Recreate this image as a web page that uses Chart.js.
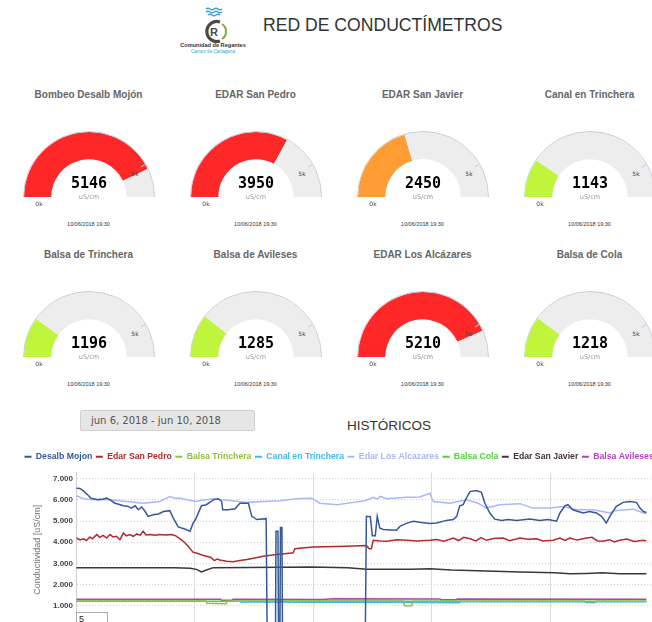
<!DOCTYPE html>
<html>
<head>
<meta charset="utf-8">
<script src="https://cdn.jsdelivr.net/npm/chart.js@4.4.0/dist/chart.umd.min.js"></script>
<style>
body { margin:0; width:652px; height:622px; overflow:hidden; background:#fff; position:relative;
       font-family: Arial, "Liberation Sans", sans-serif; }
.abs { position:absolute; }
#title { left:263px; top:15px; font-size:17.6px; color:#333; white-space:nowrap; }
.gtitle { position:absolute; width:170px; margin-left:-85px; text-align:center; font-weight:bold;
          font-size:10px; line-height:12px; color:#666; white-space:nowrap; }
.gdate { position:absolute; width:100px; margin-left:-50px; text-align:center; font-size:5.5px;
         line-height:6px; color:#333; }
#range { left:80px; top:410px; width:163px; height:19px; padding-left:10px; background:#e6e6e6;
         border:1px solid #d0d0d0; border-radius:2px; font-family:"DejaVu Sans"; font-size:10px;
         line-height:19px; color:#555; }
#hist { left:347px; top:418px; font-size:13.5px; line-height:16px; color:#333; }
#roll { left:76px; top:612px; width:28px; height:14px; border:1px solid #aaa; font-size:9px;
        line-height:12px; padding-left:2px; color:#222; background:#fff; }
</style>
</head>
<body>

<svg class="abs" style="left:178px;top:5px" width="72" height="52">
  <path d="M28 4 q2 -1.5 4 0 t4 0 t4 0 t4 0" stroke="#3a9fd8" fill="none" stroke-width="1.3"/>
  <path d="M28 7 q2 -1.5 4 0 t4 0 t4 0 t4 0" stroke="#3a9fd8" fill="none" stroke-width="1.3"/>
  <path d="M30 10 q2 -1.5 4 0 t4 0 t4 0" stroke="#3a9fd8" fill="none" stroke-width="1.3"/>
  <path d="M42 17 A10 10 0 1 0 42 36" stroke="#4a4a4a" fill="none" stroke-width="3.2"/>
  <path d="M44 19 A9 9 0 0 1 44 34" stroke="#8aa23a" fill="none" stroke-width="2"/>
  <text x="36" y="30.5" font-size="11" font-weight="bold" fill="#4a4a4a" text-anchor="middle" font-family="Arial">R</text>
  <text x="35" y="42" font-size="5.6" font-weight="bold" fill="#333" text-anchor="middle" font-family="Arial">Comunidad de Regantes</text>
  <text x="35" y="48" font-size="4.6" fill="#3a9fd6" text-anchor="middle" font-family="Arial">Campo de Cartagena</text>
</svg>
<div id="title" class="abs">RED DE CONDUCTÍMETROS</div>

<div id="gauges"></div>

<div id="range" class="abs">jun 6, 2018 - jun 10, 2018</div>
<div id="hist" class="abs">HISTÓRICOS</div>

<canvas id="hChart" class="abs" width="700" height="190" style="left:21px;top:449px"></canvas>
<div id="roll" class="abs">5</div>

<script>
// ---- gauges ----
var gaugeNames = ['Bombeo Desalb Mojón', 'EDAR San Pedro', 'EDAR San Javier', 'Canal en Trinchera',
                  'Balsa de Trinchera', 'Balsa de Avileses', 'EDAR Los Alcázares', 'Balsa de Cola'];
var gaugeValues = [5146, 3950, 2450, 1143, 1196, 1285, 5210, 1218];
var gaugeColors = ['#ff2828', '#ff2828', '#ff9c33', '#bff53b', '#bff53b', '#bff53b', '#ff2828', '#bff53b'];
var gaugeMax = 6000;
var gaugeTick = 5000;
var gaugeDate = '10/06/2018 19:30';
var gaugeUnit = 'uS/cm';

var colX = [88.5, 255.5, 422.5, 589.5];
var rowY = [197, 357];

var gaugeDeco = {
  id: 'gaugeDeco',
  afterDatasetsDraw: function (chart) {
    var arc = chart.getDatasetMeta(0).data[0];
    var ctx = chart.ctx, cx = arc.x, cy = arc.y, r = arc.outerRadius;
    ctx.save();
    ctx.strokeStyle = '#c3cedb';
    ctx.lineWidth = 1;
    ctx.beginPath();
    ctx.arc(cx, cy, r + 0.5, Math.PI, 2 * Math.PI);
    ctx.stroke();
    var a = Math.PI + Math.PI * gaugeTick / gaugeMax;
    ctx.beginPath();
    ctx.moveTo(cx + Math.cos(a) * (r - 5), cy + Math.sin(a) * (r - 5));
    ctx.lineTo(cx + Math.cos(a) * r, cy + Math.sin(a) * r);
    ctx.stroke();

    ctx.textAlign = 'center';
    ctx.fillStyle = '#000';
    ctx.font = 'bold 15px "DejaVu Sans Mono"';
    ctx.fillText(String(chart.data.datasets[0].data[0]), cx, cy - 9.5);
    ctx.fillStyle = '#999';
    ctx.font = '6.5px "DejaVu Sans"';
    ctx.fillText(gaugeUnit, cx, cy + 2);
    ctx.fillStyle = '#444';
    ctx.font = '6px "DejaVu Sans"';
    ctx.fillText('0k', cx - 50, cy + 9);
    ctx.fillText('5k', cx + 46, cy - 21);
    ctx.restore();
  }
};

var host = document.getElementById('gauges');
gaugeNames.forEach(function (name, i) {
  var gx = colX[i % 4], gy = rowY[Math.floor(i / 4)];
  var t = document.createElement('div');
  t.className = 'gtitle';
  t.style.left = gx + 'px';
  t.style.top = (gy - 108) + 'px';
  t.textContent = name;
  host.appendChild(t);

  var d = document.createElement('div');
  d.className = 'gdate';
  d.style.left = gx + 'px';
  d.style.top = (gy + 23.5) + 'px';
  d.textContent = gaugeDate;
  host.appendChild(d);

  var c = document.createElement('canvas');
  c.width = 140; c.height = 82;
  c.className = 'abs';
  c.style.left = (gx - 70) + 'px';
  c.style.top = (gy - 68) + 'px';
  host.appendChild(c);

  new Chart(c.getContext('2d'), {
    type: 'doughnut',
    data: {
      labels: ['valor', 'resto'],
      datasets: [{
        data: [gaugeValues[i], gaugeMax - gaugeValues[i]],
        backgroundColor: [gaugeColors[i], '#ededed'],
        borderWidth: 0
      }]
    },
    options: {
      responsive: false,
      animation: false,
      events: [],
      rotation: -90,
      circumference: 180,
      cutout: '58%',
      layout: { padding: { left: 5, right: 5, top: 3, bottom: 14 } },
      plugins: { legend: { display: false }, tooltip: { enabled: false } }
    },
    plugins: [gaugeDeco]
  });
});

// ---- histórico (horas desde 6 jun 00:00) ----
var mojonH = [0.1, 0.8, 1.5, 2.4, 3.0, 3.5, 4.5, 5.5, 6.2, 6.9, 7.9, 8.8, 9.6, 10.6, 11.2, 12.0, 12.6, 13.3, 14.0, 14.6,
  15.6, 16.7, 17.7, 19.0, 19.7, 20.7, 22.0, 23.1, 23.7, 24.2, 25.4, 26.4, 27.8, 28.8, 29.5, 29.7, 30.8, 32.2, 33.2, 34.9,
  35.6, 36.6, 38.5, 38.7, 40.4, 40.5, 40.9, 41.0, 41.3, 41.4, 41.7, 41.8, 58.6, 58.8, 59.6, 60.0, 60.6, 61.0, 61.5, 62.2,
  64.9, 65.6, 67.0, 68.3, 69.6, 71.7, 73.0, 75.0, 76.4, 77.1, 77.7, 78.4, 79.4, 79.8, 81.1, 82.1, 82.8, 83.8, 84.8, 86.2,
  87.5, 89.2, 91.9, 93.9, 95.6, 97.3, 98.0, 99.0, 99.6, 100.6, 101.7, 102.7, 104.0, 105.4, 106.4, 107.4, 108.1, 109.4,
  110.8, 112.1, 113.5, 114.2, 114.9, 115.5];
var mojonV = [6550, 6540, 6420, 6230, 6080, 6050, 6010, 6040, 6080, 6000, 5840, 5780, 5720, 5690, 5610, 5720, 5530, 5660, 5450, 5220,
  5300, 5330, 5450, 5490, 5140, 4720, 4620, 4520, 4900, 5070, 5720, 5770, 6000, 6050, 5920, 5530, 5530, 5580, 5840, 5840,
  5220, 5070, 5110, 0, 0, 4520, 4520, 0, 0, 4700, 4700, 0, 0, 5220, 5200, 4300, 4300, 5220, 4670, 4600,
  4560, 4750, 4900, 4990, 4940, 4880, 4910, 5030, 5070, 5220, 5720, 5770, 6240, 6390, 6440, 6350, 5840, 5380, 5090, 5020,
  5070, 5030, 5090, 5030, 5070, 4990, 5380, 5720, 5770, 5530, 5450, 5380, 5450, 5380, 5220, 4910, 5220, 5690,
  5880, 5920, 5880, 5610, 5450, 5400];

var pedroH = [0.1, 0.8, 1.5, 2.1, 2.8, 3.3, 4.2, 4.8, 5.5, 6.2, 6.9, 7.5, 8.2, 8.9, 9.6, 10.2, 10.9, 11.6, 12.3, 13.0,
  13.6, 14.2, 15.0, 16.0, 17.0, 18.2, 19.4, 20.2, 21.1, 22.0, 22.7, 23.7, 24.7, 25.5, 26.4, 27.3, 28.0, 28.6, 29.1, 30.5,
  31.8, 33.2, 34.6, 36.2, 37.9, 40.6, 42.7, 44.0, 44.3, 48.0, 54.8, 58.8, 59.3, 59.8, 60.2, 61.5, 62.9, 65.0, 67.0, 69.0,
  71.7, 73.0, 74.5, 76.4, 77.5, 78.5, 79.8, 81.0, 82.0, 83.1, 84.5, 86.5, 87.8, 89.9, 91.5, 93.3, 94.5, 96.6, 98.0, 99.0,
  100.0, 101.5, 103.4, 104.5, 105.6, 106.7, 108.0, 109.0, 110.1, 111.5, 113.0, 114.9, 115.5];
var pedroV = [4200, 4110, 4160, 4080, 4250, 4160, 4360, 4230, 4320, 4200, 4360, 4250, 4280, 4120, 4440, 4300, 4360, 4280, 4390, 4330,
  4520, 4340, 4360, 4330, 4360, 4340, 4360, 4300, 4160, 3990, 3810, 3530, 3470, 3400, 3340, 3280, 3130, 3210, 3160, 3100,
  3080, 3140, 3190, 3260, 3340, 3420, 3470, 3500, 3690, 3770, 3810, 3850, 3700, 3690, 4090, 4060, 4050, 4120, 4090, 4060,
  4090, 4130, 4050, 4200, 4080, 4230, 4160, 4060, 4220, 4090, 4180, 4200, 4070, 4200, 4140, 4160, 4060, 4090, 4200, 4080,
  4200, 4100, 4200, 4230, 4060, 4050, 4120, 4010, 4090, 4150, 4040, 4090, 4060];

var trincheraH = [0.1, 26.3, 26.5, 30.4, 30.6, 50.0, 66.3, 66.5, 68.0, 68.2, 90.0, 115.5];
var trincheraV = [1230, 1230, 1120, 1100, 1220, 1230, 1230, 1000, 1000, 1220, 1230, 1220];

var canalH = [33.2, 50.0, 72.0, 75.7, 77.5, 78.0, 115.5];
var canalV = [1180, 1170, 1160, 1150, 1150, 1190, 1190];

var alcazaresH = [0.1, 1.5, 3.5, 6.9, 10.3, 13.6, 17.0, 19.0, 20.0, 21.1, 22.4, 24.4, 25.1, 27.8, 31.2, 34.6, 37.9, 41.3, 44.7, 47.7,
  49.4, 52.9, 56.2, 58.5, 60.2, 61.0, 61.6, 62.9, 67.0, 69.6, 71.7, 72.3, 75.7, 79.1, 81.4, 83.1, 85.8, 89.9, 92.5, 96.0,
  98.7, 101.4, 104.7, 108.1, 109.4, 112.8, 114.9, 115.5];
var alcazaresV = [6190, 6050, 6000, 6000, 5920, 5840, 5920, 6160, 6080, 6080, 6000, 5920, 5970, 6050, 5970, 5880, 5920, 5960, 6050, 6080,
  5840, 5770, 5880, 5960, 6120, 6030, 6160, 6050, 6120, 6130, 6310, 5920, 5840, 6000, 5840, 5610, 5770, 5820, 5610, 5610,
  5690, 5530, 5530, 5380, 5500, 5560, 5380, 5360];

var colaH = [0.1, 40.0, 80.0, 103.0, 103.3, 105.0, 105.3, 115.5];
var colaV = [1210, 1210, 1215, 1210, 1150, 1140, 1210, 1210];

var javierH = [0.1, 10.0, 20.0, 23.1, 24.4, 25.4, 26.4, 27.8, 35.0, 47.7, 55.0, 58.9, 68.0, 71.7, 76.0, 83.0, 90.0, 97.0, 100.0, 103.4,
  106.5, 110.1, 115.5];
var javierV = [2800, 2800, 2790, 2770, 2720, 2600, 2690, 2800, 2810, 2830, 2800, 2720, 2720, 2750, 2690, 2640, 2590, 2560, 2510, 2530,
  2560, 2510, 2510];

var avilesesH = [0.1, 20.0, 29.3, 29.5, 31.6, 31.8, 50.0, 52.0, 73.7, 74.0, 77.0, 77.2, 115.5];
var avilesesV = [1310, 1310, 1310, 1260, 1260, 1310, 1300, 1330, 1320, 1280, 1280, 1320, 1310];

var yTicks = [0, 1000, 2000, 3000, 4000, 5000, 6000, 7000];

function pts(h, v) {
  return h.map(function (x, i) { return { x: x, y: v[i] }; });
}
function serie(label, color, h, v) {
  return { label: label, data: pts(h, v), borderColor: color, backgroundColor: color,
           borderWidth: 1.5, pointRadius: 0, tension: 0, fill: false };
}

var legendGap = {
  id: 'legendGap',
  beforeInit: function (chart) {
    var fit = chart.legend.fit;
    chart.legend.fit = function () { fit.bind(chart.legend)(); this.height += 1.5; };
  }
};

new Chart(document.getElementById('hChart').getContext('2d'), {
  type: 'line',
  data: {
    datasets: [
      serie('Desalb Mojon', '#36589a', mojonH, mojonV),
      serie('Edar San Pedro', '#b3292c', pedroH, pedroV),
      serie('Balsa Trinchera', '#94bf3c', trincheraH, trincheraV),
      serie('Canal en Trinchera', '#3cb9f0', canalH, canalV),
      serie('Edar Los Alcazares', '#aab6f8', alcazaresH, alcazaresV),
      serie('Balsa Cola', '#4fd13a', colaH, colaV),
      serie('Edar San Javier', '#40343a', javierH, javierV),
      serie('Balsa Avileses', '#b43fc4', avilesesH, avilesesV)
    ]
  },
  options: {
    responsive: false,
    animation: false,
    events: [],
    layout: { padding: { left: 0, right: 3, top: 0, bottom: 12 } },
    plugins: {
      tooltip: { enabled: false },
      legend: {
        align: 'start',
        labels: {
          usePointStyle: true,
          pointStyle: 'line',
          pointStyleWidth: 7,
          padding: 3.5,
          font: { family: 'Arial', size: 8.7, weight: 'bold' },
          generateLabels: function (chart) {
            var items = Chart.defaults.plugins.legend.labels.generateLabels(chart);
            items.forEach(function (it) { it.fontColor = it.strokeStyle; it.lineWidth = 2; });
            return items;
          }
        }
      }
    },
    scales: {
      x: {
        type: 'linear',
        min: 0,
        max: 130,
        ticks: { display: false, stepSize: 24 },
        grid: { color: '#dcdcdc', lineWidth: 1, drawTicks: false },
        border: { display: false }
      },
      y: {
        min: 0,
        max: 7280,
        afterBuildTicks: function (scale) {
          scale.ticks = yTicks.map(function (v) { return { value: v }; });
        },
        afterFit: function (scale) { scale.width = 55; },
        ticks: {
          padding: 3,
          color: '#444',
          font: { family: 'Arial', size: 8, weight: 'bold' },
          callback: function (v) { return v === 0 ? '0' : (v / 1000) + '.000'; }
        },
        grid: { color: '#d2d2d2', drawTicks: false },
        border: { display: true, color: '#cfcfcf', dash: [1, 2] },
        title: {
          display: true,
          text: 'Conductividad [uS/cm]',
          color: '#777',
          font: { family: 'Arial', size: 9 },
          padding: { top: 11, bottom: 4 }
        }
      }
    }
  },
  plugins: [legendGap]
});
</script>
</body>
</html>
